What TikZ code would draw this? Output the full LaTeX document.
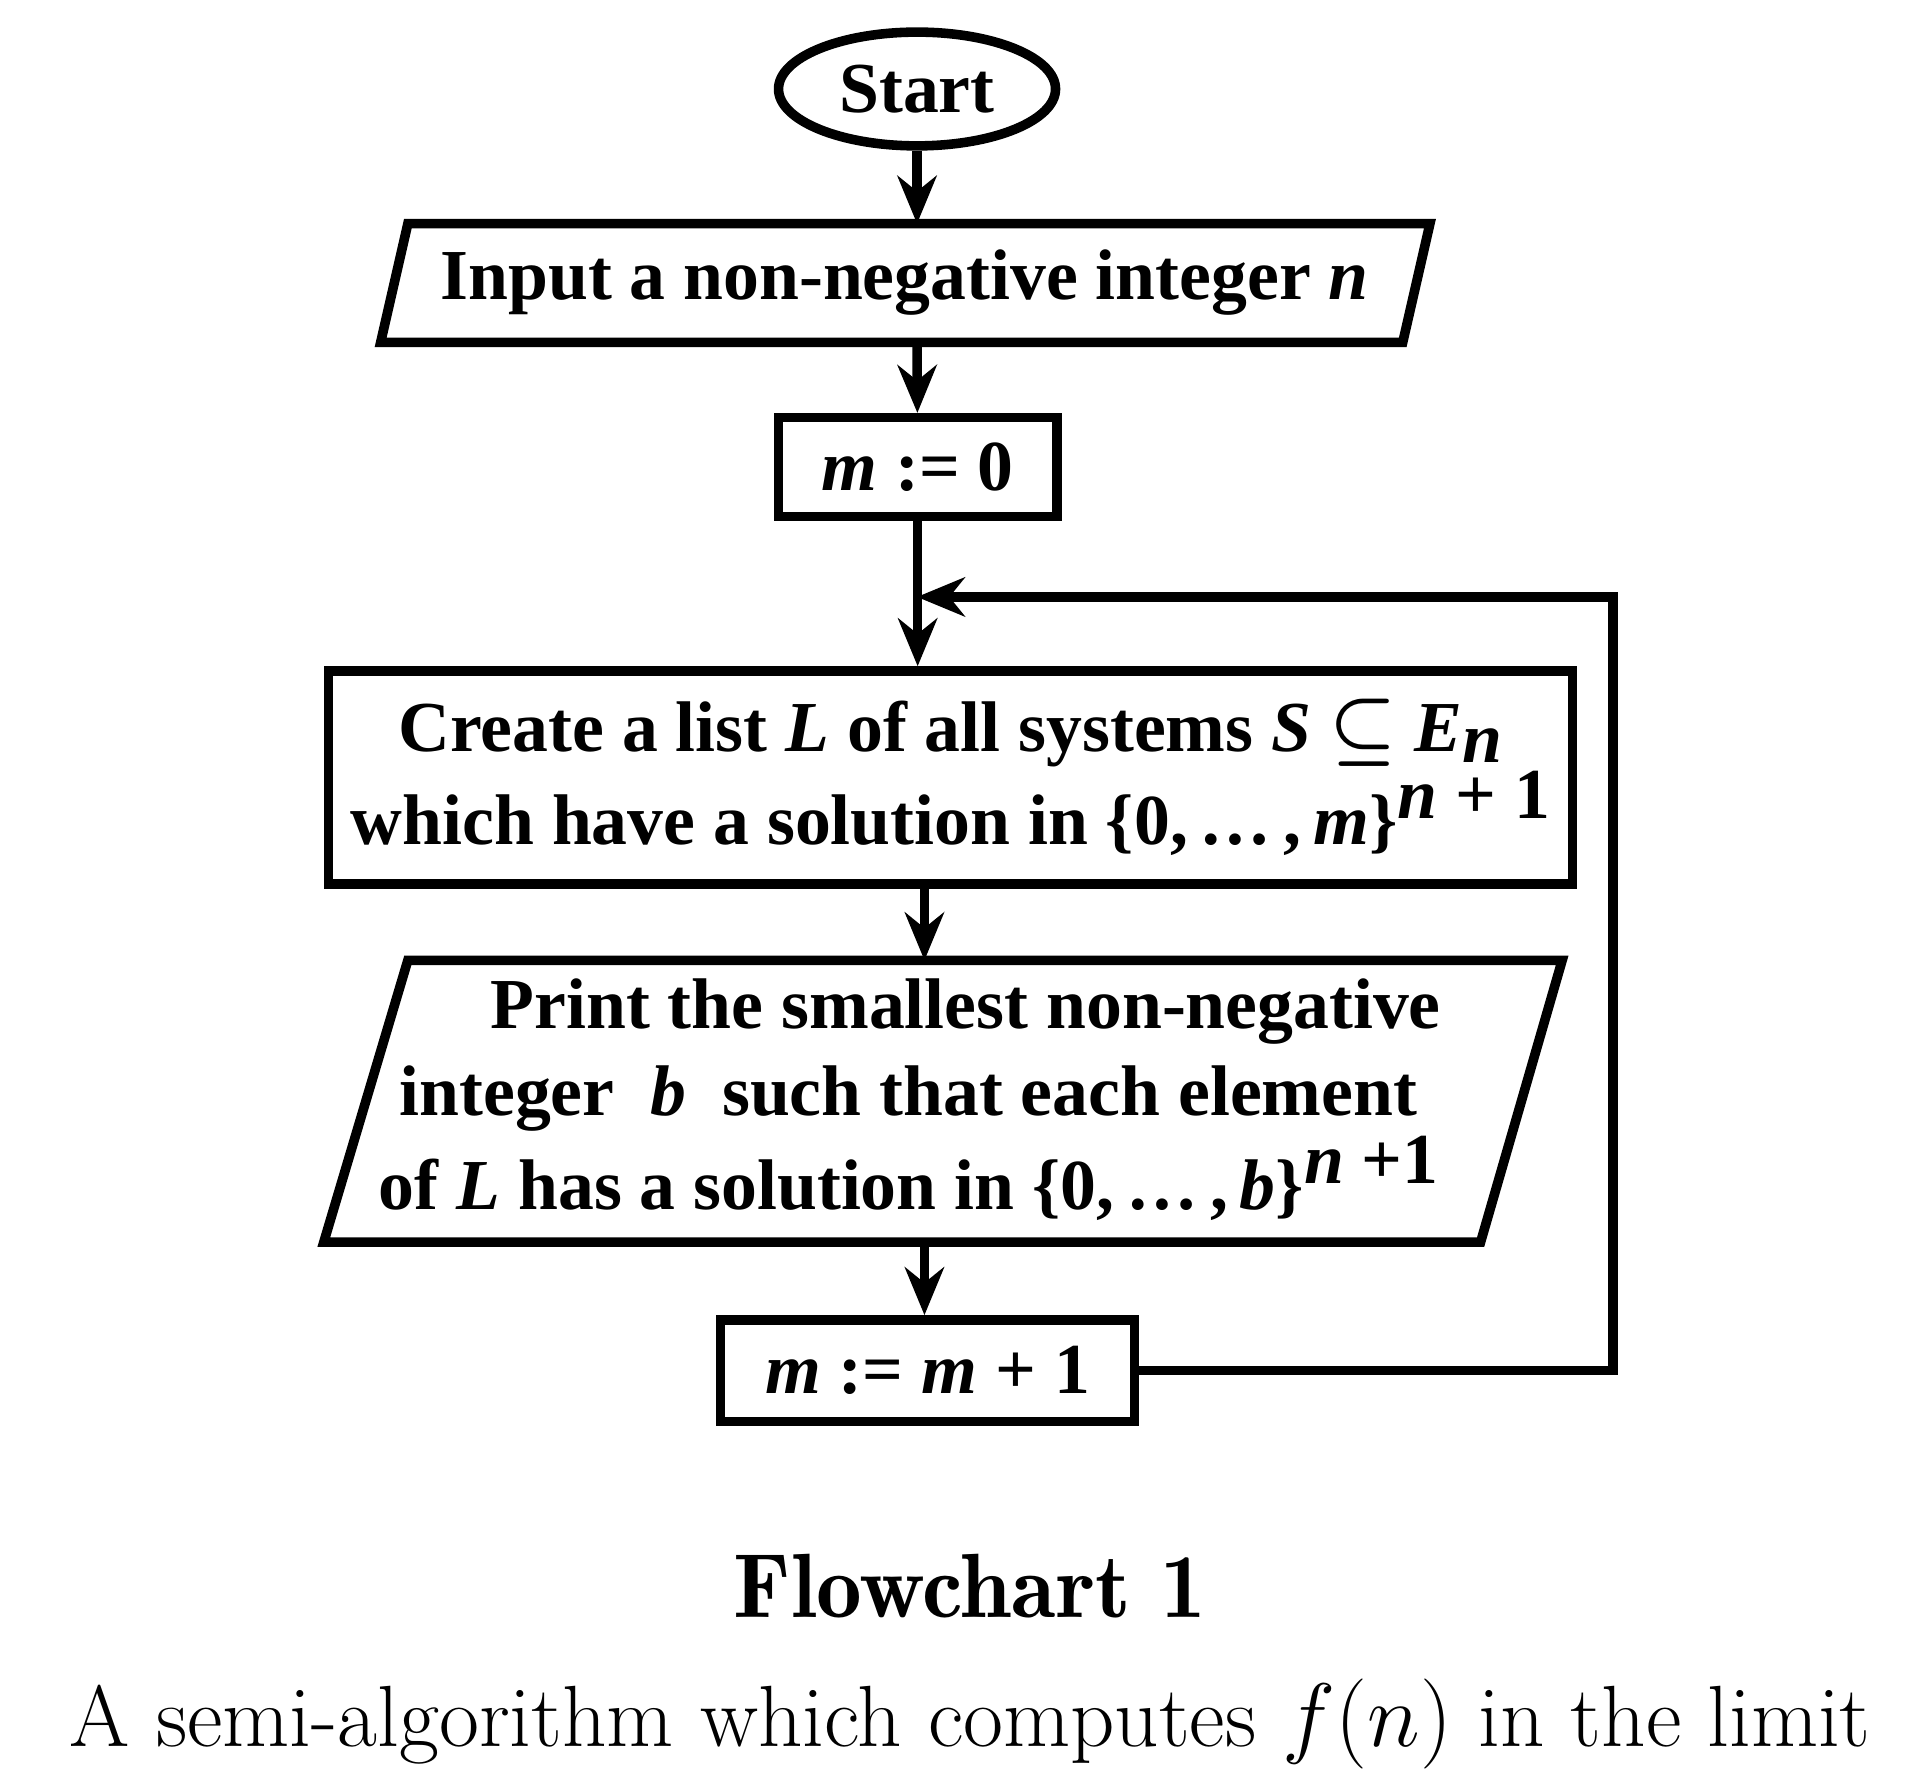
\documentclass[tikz,border=0pt]{standalone}
\usepackage{fontspec}
\usetikzlibrary{shapes.geometric,arrows.meta}
\newfontfamily\tnr{Liberation Serif}
\newcommand{\vv}[1]{\textbf{\textit{#1}}}
\begin{document}
\begin{tikzpicture}[x=0.01cm,y=-0.01cm,
  lbl/.style={font=\tnr\bfseries\fontsize{16.5}{20.5}\selectfont,align=center,inner sep=0},
  box/.style={draw,line width=2.2pt,lbl},
  edge/.style={line width=2.2pt,-{Stealth[length=11pt,width=9pt]}},
  ln/.style={line width=2.2pt}]
\useasboundingbox (0,0) rectangle (1560,1448);
\node[box,ellipse,minimum width=2.24cm,minimum height=0.92cm] (start) at (742,72) {Start};
\node[lbl] (inp) at (732,229) {Input a non-negative integer \vv{n}};
\draw[ln] (330,181) -- (1157,181) -- (1135,277) -- (308,277) -- cycle;
\coordinate (inptop) at (742,181); \coordinate (inpbot) at (742,277);
\node[box,minimum width=2.25cm,minimum height=0.8cm] (m0) at (742.5,378) {\vv{m} := 0};
\node[box,minimum width=10.06cm,minimum height=1.72cm] (create) at (769,629)
 {Create a list \vv{L} of all systems \vv{S} {\boldmath$\subseteq$} \vv{E}\raisebox{-0.35ex}{\vv{n}}\\
  which have a solution in \{0,\,\ldots\,,\,\vv{m}\}\raisebox{0.8ex}{\vv{n} + 1}};
\node[lbl,font=\tnr\bfseries\fontsize{16.5}{20}\selectfont] (print) at (735,890)
 {\hspace*{1.6em}Print the smallest non-negative\\
  integer \ \vv{b} \ such that each element\\
  of \vv{L} has a solution in \{0,\,\ldots\,,\,\vv{b}\}\raisebox{0.8ex}{\vv{n} +1}};
\draw[ln] (330,777) -- (1264,777) -- (1198,1005) -- (262,1005) -- cycle;
\coordinate (prtop) at (748,777); \coordinate (prbot) at (748,1005);
\node[box,minimum width=3.35cm,minimum height=0.82cm] (m1) at (750.5,1109) {\vv{m} := \vv{m} + 1};
\coordinate (mid) at (742,483);
\coordinate (r1) at (1305,1109); \coordinate (r2) at (1305,483);
\draw[edge] (start) -- (inptop);
\draw[edge] (inpbot) -- (m0);
\draw[edge] (m0) -- (create.north -| m0);
\draw[edge] (create.south -| prtop) -- (prtop);
\draw[edge] (prbot) -- (m1.north -| prbot);
\draw[edge] (m1.east) -- (r1) -- (r2) -- (mid);
\node[font=\fontseries{sb}\fontsize{21}{25}\selectfont] (cap1) at (785,1283) {Flowchart 1};
\node[font=\fontsize{20}{24}\selectfont] (cap2) at (785,1395) {A semi-algorithm which computes $f(n)$ in the limit};
\end{tikzpicture}
\end{document}
